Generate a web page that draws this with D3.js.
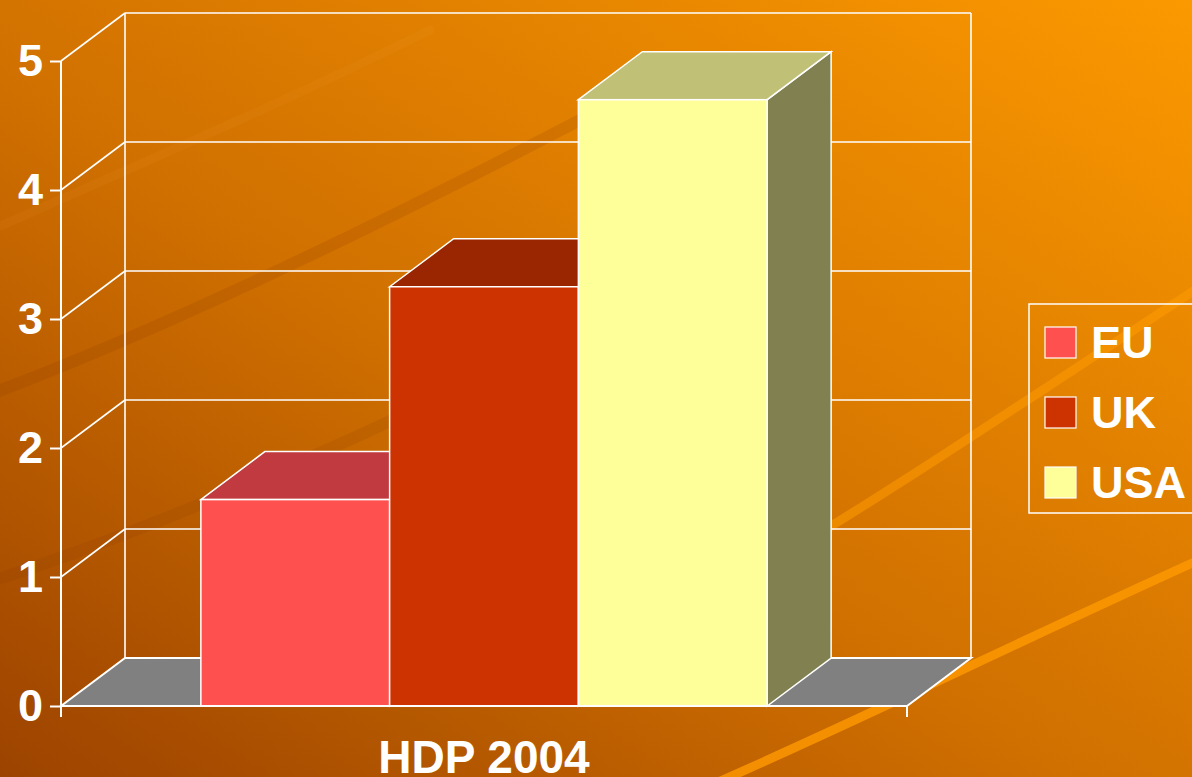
<!DOCTYPE html>
<html>
<head>
<meta charset="utf-8">
<script src="https://cdn.jsdelivr.net/npm/d3@7"></script>
<style>
  html, body { margin: 0; padding: 0; overflow: hidden; }
  svg { display: block; font-family: "Liberation Sans", Arial, sans-serif; font-weight: bold; }
</style>
</head>
<body>
<div id="chart"></div>
<script>
const categories = ["HDP 2004"];
const series = ["EU", "UK", "USA"];
const values = [1.6, 3.25, 4.7];
const yTicks = [0, 1, 2, 3, 4, 5];
const frontColors = ["#ff5050", "#cc3300", "#ffff99"];
const topColors = ["#c03a3f", "#992600", "#c0c077"];
const sideColors = ["#a03030", "#80260a", "#808050"];

const w = 1192;
const h = 777;
const dx = 64, dy = -48;   // depth offset of the 3d box

const svg = d3.select("#chart")
    .append("svg")
    .attr("width", w)
    .attr("height", h);

// background
const defs = svg.append("defs");
const grad = defs.append("linearGradient")
    .attr("id", "bg")
    .attr("x1", "0").attr("y1", "1")
    .attr("x2", "1").attr("y2", "0");
grad.append("stop").attr("offset", "0").attr("stop-color", "#9c4300");
grad.append("stop").attr("offset", "0.45").attr("stop-color", "#d07000");
grad.append("stop").attr("offset", "1").attr("stop-color", "#fb9900");

svg.append("rect").attr("width", w).attr("height", h).attr("fill", "url(#bg)");

// swooshes
const swooshes = [
    {d: "M-20,398 C150,335 350,240 580,120", c: "#8a3a00", o: 0.16, sw: 12},
    {d: "M-20,585 C200,515 420,410 640,300", c: "#8a3a00", o: 0.14, sw: 12},
    {d: "M-20,235 C150,160 300,95 430,30", c: "#ffb040", o: 0.07, sw: 9},
    {d: "M700,790 C850,725 1000,650 1210,555", c: "#ff9a00", o: 0.8, sw: 9},
    {d: "M800,545 C900,485 1050,385 1210,280", c: "#ff9a00", o: 0.55, sw: 9}
];
svg.append("g").selectAll("path")
    .data(swooshes)
    .enter()
    .append("path")
    .attr("d", d => d.d)
    .attr("fill", "none")
    .attr("stroke", d => d.c)
    .attr("stroke-opacity", d => d.o)
    .attr("stroke-width", d => d.sw)
    .attr("stroke-linecap", "round");

// scales
const x0 = d3.scaleBand()
    .domain(categories)
    .range([61, 907])
    .paddingOuter(0.247);

const x1 = d3.scaleBand()
    .domain(series)
    .range([0, x0.bandwidth()]);

const yScale = d3.scaleLinear()
    .domain([0, 5])
    .range([706, 61]);

const left = 61, right = 907, base = yScale(0);
const line = d3.line();

// floor
svg.append("path")
    .attr("d", line([[left, base], [right, base], [right + dx, base + dy], [left + dx, base + dy]]) + "Z")
    .attr("fill", "#808080")
    .attr("stroke", "#fff")
    .attr("stroke-width", 2);

// back wall and side wall grid
const grid = svg.append("g").attr("stroke", "#fff").attr("stroke-width", 1.6).attr("fill", "none");
grid.selectAll(".back")
    .data(yTicks.filter(t => t > 0))
    .enter()
    .append("line")
    .attr("x1", left + dx).attr("x2", right + dx)
    .attr("y1", d => yScale(d) + dy).attr("y2", d => yScale(d) + dy);
grid.selectAll(".side")
    .data(yTicks.filter(t => t > 0))
    .enter()
    .append("line")
    .attr("x1", left).attr("x2", left + dx)
    .attr("y1", d => yScale(d)).attr("y2", d => yScale(d) + dy);
grid.append("line")
    .attr("x1", left + dx).attr("x2", left + dx)
    .attr("y1", yScale(0) + dy).attr("y2", yScale(5) + dy);
grid.append("line")
    .attr("x1", right + dx).attr("x2", right + dx)
    .attr("y1", yScale(0) + dy).attr("y2", yScale(5) + dy);

// bars
const bars = svg.append("g")
    .selectAll("g")
    .data(series.map((s, i) => ({s: s, v: values[i], i: i})))
    .enter()
    .append("g");

bars.each(function (d) {
    const g = d3.select(this);
    const xa = x0(categories[0]) + x1(d.s);
    const xb = xa + x1.bandwidth();
    const yt = yScale(d.v);
    // side
    g.append("path")
        .attr("d", line([[xb, yt], [xb + dx, yt + dy], [xb + dx, base + dy], [xb, base]]) + "Z")
        .attr("fill", sideColors[d.i])
        .attr("stroke", "#fff").attr("stroke-width", 1.5);
    // top
    g.append("path")
        .attr("d", line([[xa, yt], [xa + dx, yt + dy], [xb + dx, yt + dy], [xb, yt]]) + "Z")
        .attr("fill", topColors[d.i])
        .attr("stroke", "#fff").attr("stroke-width", 1.5);
    // front
    g.append("rect")
        .attr("x", xa).attr("y", yt)
        .attr("width", x1.bandwidth()).attr("height", base - yt)
        .attr("fill", frontColors[d.i])
        .attr("stroke", "#fff").attr("stroke-width", 1.5);
});

// axes
const yAxis = d3.axisLeft(yScale)
    .tickValues(yTicks)
    .tickSize(11)
    .tickPadding(7)
    .tickFormat(d3.format("d"));
const axL = svg.append("g")
    .attr("transform", `translate(${left},0)`)
    .call(yAxis);
axL.select(".domain").attr("stroke", "#fff").attr("stroke-width", 2).attr("d", `M0,${yScale(5)}V${base + 11}`);
axL.selectAll(".tick line").attr("stroke", "#fff").attr("stroke-width", 2);
axL.selectAll(".tick text")
    .attr("fill", "#fff")
    .attr("font-size", 45)
    .attr("font-weight", "bold")
    .attr("font-family", "Liberation Sans, Arial, sans-serif");

const xAxis = d3.axisBottom(x0).tickSize(0).tickPadding(34);
const axB = svg.append("g")
    .attr("transform", `translate(0,${base})`)
    .call(xAxis);
axB.select(".domain").remove();
axB.selectAll(".tick text")
    .attr("fill", "#fff")
    .attr("font-size", 46)
    .attr("font-weight", "bold")
    .attr("font-family", "Liberation Sans, Arial, sans-serif");
svg.append("g").selectAll("line")
    .data([left, right])
    .enter()
    .append("line")
    .attr("x1", d => d).attr("x2", d => d)
    .attr("y1", base).attr("y2", base + 11)
    .attr("stroke", "#fff").attr("stroke-width", 2);
svg.append("line")
    .attr("x1", left).attr("x2", right)
    .attr("y1", base).attr("y2", base)
    .attr("stroke", "#fff").attr("stroke-width", 2);

// legend
const legend = svg.append("g").attr("transform", "translate(1029,304)");
legend.append("rect")
    .attr("width", 175).attr("height", 209)
    .attr("fill", "none")
    .attr("stroke", "#fff").attr("stroke-width", 1.5);
const items = legend.selectAll(".item")
    .data(series)
    .enter()
    .append("g")
    .attr("transform", (d, i) => `translate(0,${38 + i * 70})`);
items.append("rect")
    .attr("x", 16).attr("y", -15)
    .attr("width", 31).attr("height", 31)
    .attr("fill", (d, i) => frontColors[i])
    .attr("stroke", "#fff").attr("stroke-width", 1.2);
items.append("text")
    .attr("x", 62).attr("y", 0)
    .attr("dy", "0.36em")
    .attr("fill", "#fff")
    .attr("font-size", 45)
    .text(d => d);
</script>
</body>
</html>
